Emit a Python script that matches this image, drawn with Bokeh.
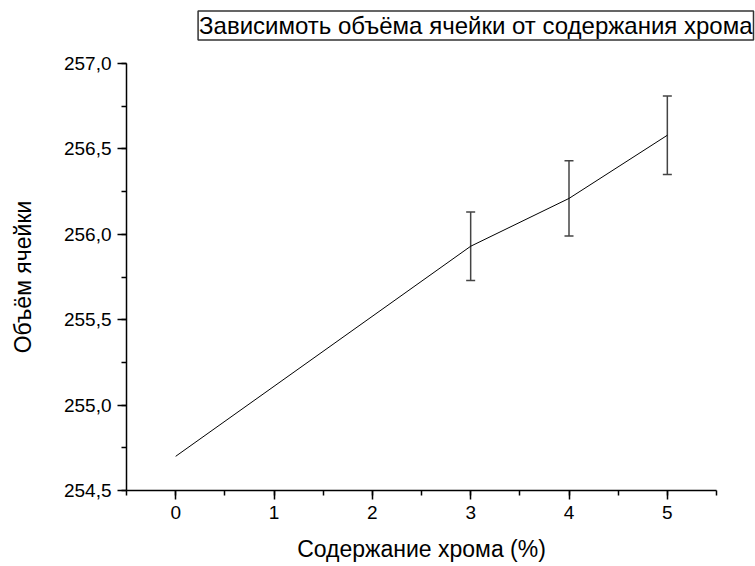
from bokeh.plotting import figure
from bokeh.models import (ColumnDataSource, Whisker, Title, SingleIntervalTicker,
                          CustomJSTickFormatter, Range1d, TeeHead)
from bokeh.embed import file_html
from bokeh.resources import INLINE

# Chromium content (%) and unit-cell volume with measurement uncertainty
chrome_pct = [0, 3, 4, 5]
cell_volume = [254.70, 255.93, 256.21, 256.58]
volume_err = [0.0, 0.20, 0.22, 0.23]

title_text = "Зависимоть объёма ячейки от содержания хрома"
x_label = "Содержание хрома (%)"
y_label = "Объём ячейки"

FONT = "Liberation Sans"

p = figure(width=755, height=566, output_backend="svg", toolbar_location=None,
           title_location=None,
           x_range=Range1d(-0.5, 5.5), y_range=Range1d(254.5, 257.0),
           min_border_left=126, min_border_right=39, min_border_top=62,
           min_border_bottom=76)
p.outline_line_color = None
p.grid.visible = False
p.background_fill_color = "white"
p.border_fill_color = "white"

p.line(chrome_pct, cell_volume, line_color="black", line_width=1)

# error bars only for the measured points that carry an uncertainty
ex = [x for x, e in zip(chrome_pct, volume_err) if e > 0]
ey_hi = [y + e for y, e in zip(cell_volume, volume_err) if e > 0]
ey_lo = [y - e for y, e in zip(cell_volume, volume_err) if e > 0]
err_src = ColumnDataSource(dict(base=ex, upper=ey_hi, lower=ey_lo))
whisk = Whisker(source=err_src, base="base", upper="upper", lower="lower",
                line_color="#444444", line_width=1.5,
                upper_head=TeeHead(size=9, line_color="#444444", line_width=1.5),
                lower_head=TeeHead(size=9, line_color="#444444", line_width=1.5))
p.add_layout(whisk)

comma = CustomJSTickFormatter(code="return tick.toFixed(1).replace('.', ',');")
p.xaxis.ticker = SingleIntervalTicker(interval=1, num_minor_ticks=2)
p.yaxis.ticker = SingleIntervalTicker(interval=0.5, num_minor_ticks=2)
p.yaxis.formatter = comma

p.axis.axis_line_width = 1.5
p.axis.major_tick_line_width = 1.5
p.axis.minor_tick_line_width = 1.5
p.axis.major_tick_in = 0
p.axis.major_tick_out = 9
p.axis.minor_tick_in = 0
p.axis.minor_tick_out = 5
p.axis.major_label_text_font = FONT
p.axis.major_label_text_font_size = "19px"
p.axis.major_label_text_color = "black"
p.axis.axis_label_text_font = FONT
p.axis.axis_label_text_font_size = "23px"
p.axis.axis_label_text_font_style = "normal"
p.axis.axis_label_text_color = "black"

p.xaxis.axis_label = x_label
p.yaxis.axis_label = y_label
p.xaxis.major_label_standoff = 6
p.yaxis.major_label_standoff = 6
p.xaxis.axis_label_standoff = 14
p.yaxis.axis_label_standoff = 25

# a thin empty strip next to the frame, then the boxed heading above it
p.add_layout(Title(text=" ", text_font_size="1px", standoff=12), "above")
p.add_layout(Title(text=title_text, align="right", offset=-37, standoff=17,
                   text_font=FONT, text_font_size="24px", text_font_style="normal",
                   text_color="black", border_line_color="#333333",
                   border_line_width=1.5, background_fill_color="white",
                   padding=1), "above")

open("out.html", "w").write(file_html(p, INLINE))
